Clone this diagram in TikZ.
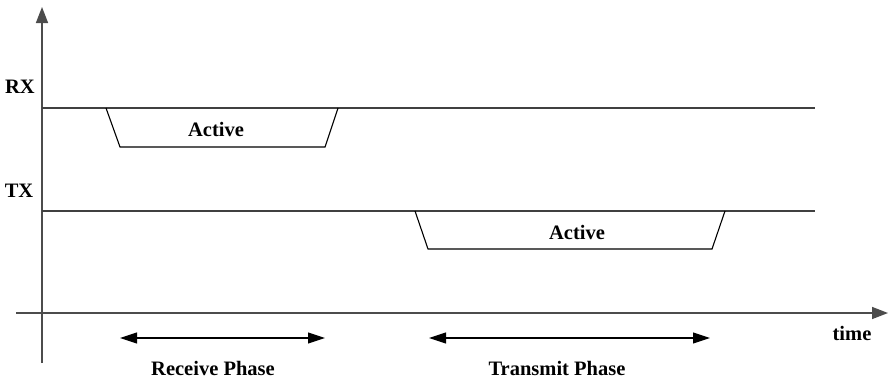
\documentclass[tikz,border=0pt]{standalone}
\usepackage{fontspec}
\setmainfont{Liberation Serif}
\usetikzlibrary{arrows.meta}
\begin{document}
\begin{tikzpicture}[x=1pt,y=-1pt,
  axis/.style={line width=1.5pt,draw=black!70},
  level/.style={line width=1.3pt,draw=black!75},
  pulse/.style={line width=1.1pt,draw=black},
  span/.style={line width=1.1pt,{Triangle[length=17pt,width=11pt]}-{Triangle[length=17pt,width=11pt]}},
  lbl/.style={font=\bfseries\fontsize{20.5}{24}\selectfont,inner sep=0pt},
]
\useasboundingbox (0,0) rectangle (890,381);
% axes
\coordinate (yb) at (42,363);
\coordinate (yt) at (42,7);
\coordinate (xl) at (16,313);
\coordinate (xr) at (888,313);
\draw[axis,-{Triangle[length=16pt,width=12pt]}] (yb) -- (yt);
\draw[axis,-{Triangle[length=16pt,width=12pt]}] (xl) -- (xr);
% signal levels
\coordinate (rx0) at (42,108);
\coordinate (rx1) at (815,108);
\coordinate (tx0) at (42,211);
\coordinate (tx1) at (815,211);
\draw[level] (rx0) -- (rx1);
\draw[level] (tx0) -- (tx1);
\node[lbl] (rxl) at (20,87) {RX};
\node[lbl] (txl) at (19,191) {TX};
% active windows
\draw[pulse] (106,108) -- (120,147) -- (325,147) -- (338,108);
\node[lbl] (ra) at (216,129) {Active};
\draw[pulse] (415,211) -- (428,249) -- (712,249) -- (725,211);
\node[lbl] (ta) at (577,232) {Active};
% phases
\coordinate (rp0) at (120,338);
\coordinate (rp1) at (325,338);
\coordinate (tp0) at (429,338);
\coordinate (tp1) at (710,338);
\draw[span] (rp0) -- (rp1);
\draw[span] (tp0) -- (tp1);
\node[lbl] (rpl) at (213,368) {Receive Phase};
\node[lbl] (tpl) at (557,368) {Transmit Phase};
\node[lbl] (tl) at (852,333) {time};
\end{tikzpicture}
\end{document}
